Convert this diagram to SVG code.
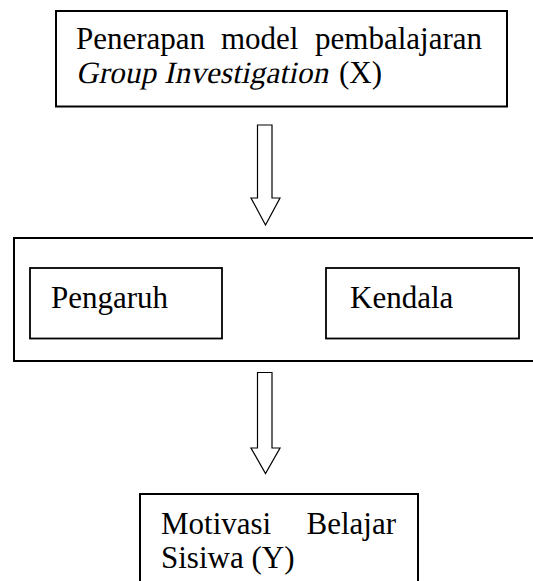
<svg xmlns="http://www.w3.org/2000/svg" width="533" height="581" viewBox="0 0 533 581">
<style>
.box{fill:#fff;stroke:#000;stroke-width:2}
.inner{fill:#fff;stroke:#000;stroke-width:1.8}
.arrow{fill:#fff;stroke:#000;stroke-width:1.2;stroke-linejoin:miter}
.t{font-family:"Liberation Serif","Times New Roman",serif;font-size:31px;fill:#000}
</style>
<rect width="533" height="581" fill="#fff"/>
<g id="node-x">
<rect class="box" x="56" y="11" width="451" height="95.5"/>
<text class="t"><tspan x="76" y="49">Penerapan</tspan><tspan x="221" y="49">model</tspan><tspan x="482" y="49" text-anchor="end">pembalajaran</tspan></text>
<text class="t" transform="translate(76,83) skewX(-12)" x="0" y="0" textLength="252" lengthAdjust="spacing">Group Investigation</text>
<text class="t" x="339" y="83">(X)</text>
</g>
<g id="node-middle">
<rect class="box" x="14" y="238" width="530" height="123"/>
</g>
<g id="node-pengaruh">
<rect class="inner" x="30" y="268" width="192" height="70.5"/>
<text class="t" x="51" y="307.5">Pengaruh</text>
</g>
<g id="node-kendala">
<rect class="inner" x="326" y="268" width="193" height="70.5"/>
<text class="t" x="350" y="307.5">Kendala</text>
</g>
<g id="node-y">
<path class="box" d="M140,600 V494 H418 V600"/>
<text class="t"><tspan x="161" y="533.5">Motivasi</tspan><tspan x="396" y="533.5" text-anchor="end">Belajar</tspan></text>
<text class="t" x="161" y="567.5">Sisiwa (Y)</text>
</g>
<g id="connectors">
<polygon class="arrow" points="257.5,125 272,125 272,198 280,198 265.5,225 251,198 257.5,198"/>
<polygon class="arrow" points="257.5,372.5 272,372.5 272,448 280,448 265.5,473.5 251,448 257.5,448"/>
</g>
</svg>
